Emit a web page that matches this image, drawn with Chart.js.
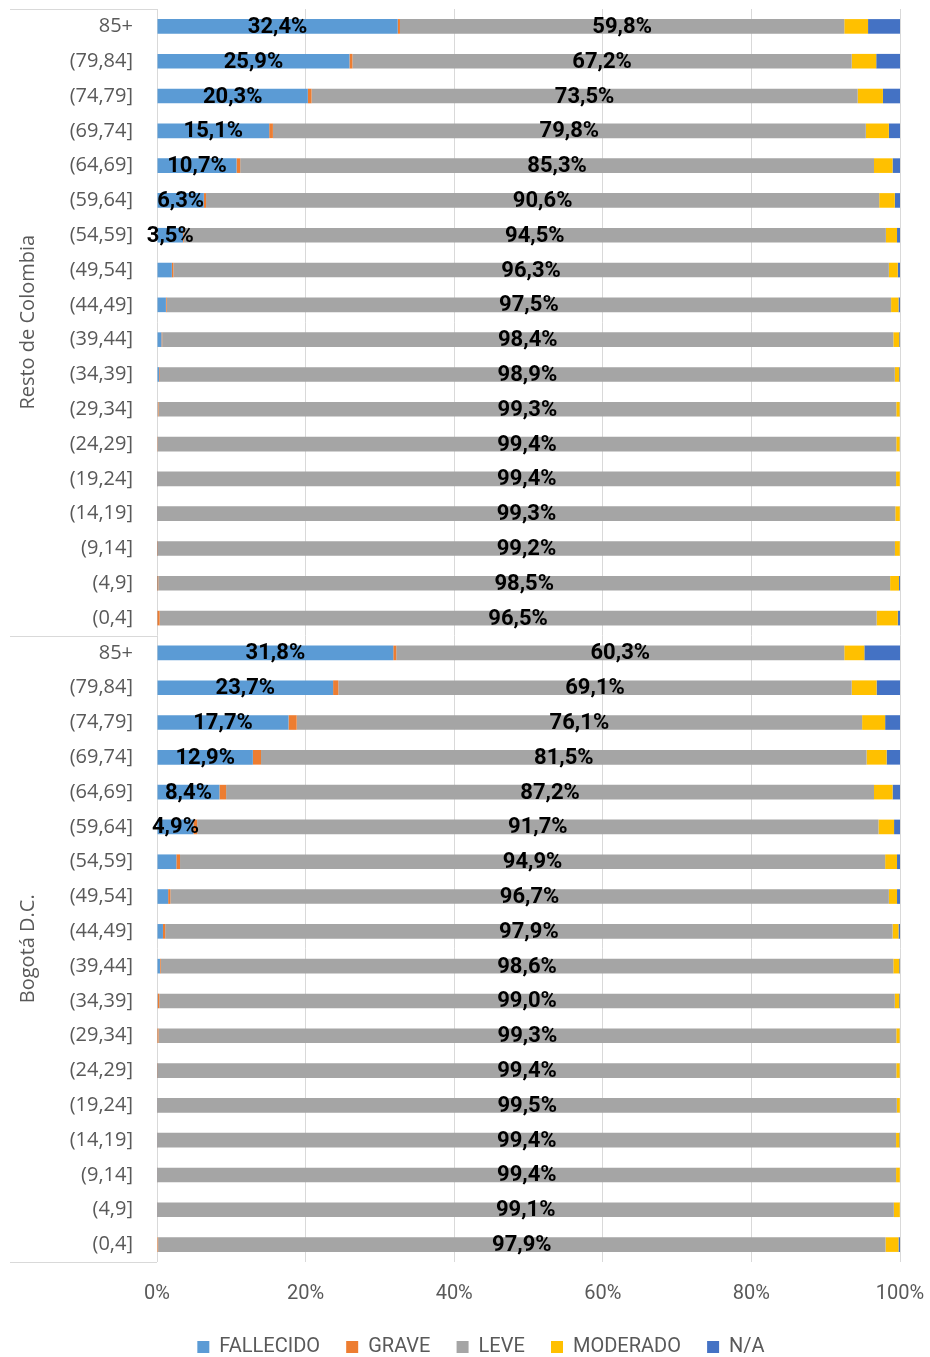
<!DOCTYPE html>
<html>
<head>
<meta charset="utf-8">
<script src="https://cdn.jsdelivr.net/npm/chart.js@4.4.0/dist/chart.umd.min.js"></script>
<style>
  html, body { margin: 0; padding: 0; background: #fff; }
</style>
</head>
<body>
<canvas id="chart" width="930" height="1357"></canvas>
<script>
// Grupos de edad (de arriba hacia abajo) y regiones
const ageGroups = ['85+', '(79,84]', '(74,79]', '(69,74]', '(64,69]', '(59,64]', '(54,59]', '(49,54]', '(44,49]',
    '(39,44]', '(34,39]', '(29,34]', '(24,29]', '(19,24]', '(14,19]', '(9,14]', '(4,9]', '(0,4]'];
const regions = ['Resto de Colombia', 'Bogotá D.C.'];
const labels = [...ageGroups, ...ageGroups];

// Porcentajes por estado: primero Resto de Colombia, luego Bogotá D.C.
const fallecido = [32.4, 25.9, 20.3, 15.1, 10.7, 6.3, 3.5, 2.0, 1.2, 0.6, 0.3, 0.1, 0.05, 0.02, 0.02, 0.02, 0.02, 0.05,
    31.8, 23.7, 17.7, 12.9, 8.4, 4.9, 2.6, 1.5, 0.8, 0.4, 0.1, 0.05, 0.02, 0.02, 0.02, 0.02, 0.02, 0.0];
const grave = [0.3, 0.4, 0.5, 0.5, 0.5, 0.3, 0.1, 0.2, 0.1, 0.1, 0.1, 0.1, 0.05, 0.05, 0.05, 0.1, 0.15, 0.3,
    0.4, 0.7, 1.1, 1.1, 0.9, 0.5, 0.5, 0.3, 0.3, 0.1, 0.2, 0.15, 0.08, 0.05, 0.05, 0.05, 0.05, 0.15];
const leve = [59.8, 67.2, 73.5, 79.8, 85.3, 90.6, 94.5, 96.3, 97.5, 98.4, 98.9, 99.3, 99.4, 99.4, 99.3, 99.2, 98.5, 96.5,
    60.3, 69.1, 76.1, 81.5, 87.2, 91.7, 94.9, 96.7, 97.9, 98.6, 99.0, 99.3, 99.4, 99.5, 99.4, 99.4, 99.1, 97.9];
const moderado = [3.2, 3.3, 3.4, 3.1, 2.5, 2.1, 1.5, 1.2, 1.0, 0.8, 0.6, 0.45, 0.45, 0.5, 0.6, 0.65, 1.2, 2.85,
    2.7, 3.35, 3.1, 2.7, 2.5, 2.1, 1.6, 1.1, 0.8, 0.8, 0.6, 0.45, 0.45, 0.4, 0.45, 0.5, 0.8, 1.75];
const na = [4.3, 3.2, 2.3, 1.5, 1.0, 0.7, 0.4, 0.3, 0.2, 0.1, 0.1, 0.05, 0.05, 0.03, 0.03, 0.03, 0.13, 0.3,
    4.8, 3.15, 2.0, 1.8, 1.0, 0.8, 0.4, 0.4, 0.2, 0.1, 0.1, 0.05, 0.05, 0.03, 0.08, 0.03, 0.03, 0.2];
const xTicks = [0, 20, 40, 60, 80, 100];

const cond = "Roboto, 'Liberation Sans', sans-serif";
const grey = '#595959';

// Etiquetas de datos (FALLECIDO >= 3% y LEVE), centradas en cada barra
const dataLabels = {
    id: 'dataLabels',
    afterDatasetsDraw(chart) {
        const ctx = chart.ctx;
        ctx.save();
        ctx.font = "bold 22px " + cond;
        ctx.fillStyle = '#000';
        ctx.textAlign = 'center';
        ctx.textBaseline = 'middle';
        [0, 2].forEach(di => {
            const ds = chart.data.datasets[di];
            chart.getDatasetMeta(di).data.forEach((bar, i) => {
                const v = ds.data[i];
                if (v < 3) return;
                const txt = v.toFixed(1).replace('.', ',') + '%';
                ctx.fillText(txt, (bar.x + bar.base) / 2, bar.y + 1);
            });
        });
        ctx.restore();
    }
};

// Eje de categorías de dos niveles: separadores y nombre de cada región
const groupAxis = {
    id: 'groupAxis',
    afterDraw(chart) {
        const ctx = chart.ctx;
        const y = chart.scales.y;
        const left = 10;
        const right = chart.chartArea.left;
        const n = ageGroups.length;
        const bounds = [chart.chartArea.top,
            (y.getPixelForValue(n - 1) + y.getPixelForValue(n)) / 2,
            chart.chartArea.bottom];
        ctx.save();
        ctx.strokeStyle = '#d9d9d9';
        ctx.lineWidth = 1;
        bounds.forEach(b => {
            ctx.beginPath();
            ctx.moveTo(left, Math.round(b) + 0.5);
            ctx.lineTo(right, Math.round(b) + 0.5);
            ctx.stroke();
        });
        ctx.fillStyle = grey;
        ctx.font = "20px 'Open Sans', sans-serif";
        ctx.textAlign = 'center';
        ctx.textBaseline = 'middle';
        regions.forEach((r, k) => {
            const cy = (y.getPixelForValue(k * n) + y.getPixelForValue(k * n + n - 1)) / 2;
            ctx.save();
            ctx.translate(28, cy);
            ctx.rotate(-Math.PI / 2);
            ctx.fillText(r, 0, 0);
            ctx.restore();
        });
        ctx.restore();
    }
};

const ctx = document.getElementById('chart').getContext('2d');
new Chart(ctx, {
    type: 'bar',
    data: {
        labels: labels,
        datasets: [
            { label: 'FALLECIDO', data: fallecido, backgroundColor: '#5B9BD5' },
            { label: 'GRAVE', data: grave, backgroundColor: '#ED7D31' },
            { label: 'LEVE', data: leve, backgroundColor: '#A5A5A5' },
            { label: 'MODERADO', data: moderado, backgroundColor: '#FFC000' },
            { label: 'N/A', data: na, backgroundColor: '#4472C4' }
        ]
    },
    options: {
        indexAxis: 'y',
        responsive: false,
        animation: false,
        datasets: {
            bar: { categoryPercentage: 1, barPercentage: 0.42, borderWidth: 0 }
        },
        // padding izquierdo grande para centrar la leyenda como en el original
        layout: { padding: { left: 62, right: 30, top: 9, bottom: -10 } },
        scales: {
            x: {
                stacked: true,
                min: 0,
                max: 100,
                afterBuildTicks: (s) => { s.ticks = xTicks.map(v => ({ value: v })); },
                afterFit: (s) => { s.paddingLeft = 0; s.paddingRight = 0; },
                grid: { color: '#d9d9d9', drawTicks: false },
                border: { display: false },
                ticks: {
                    padding: 20,
                    color: grey,
                    font: { family: cond, size: 20 },
                    callback: v => v + '%'
                }
            },
            y: {
                stacked: true,
                afterFit: (s) => { s.width = 95; s.paddingTop = 0; s.paddingBottom = 0; },
                grid: { display: false, drawTicks: false },
                border: { display: false },
                ticks: {
                    autoSkip: false,
                    padding: 24,
                    color: grey,
                    font: { family: "'Open Sans', sans-serif", size: 20 }
                }
            }
        },
        plugins: {
            legend: {
                position: 'bottom',
                labels: {
                    boxWidth: 12,
                    boxHeight: 12,
                    padding: 11,
                    color: grey,
                    font: { family: cond, size: 20 },
                    // espacio extra entre elementos de la leyenda
                    generateLabels: (chart) => {
                        const items = Chart.defaults.plugins.legend.labels.generateLabels(chart);
                        items.forEach((it, i) => {
                            if (i < items.length - 1) it.text += '\u2002 ';
                        });
                        return items;
                    }
                }
            },
            tooltip: { enabled: false }
        }
    },
    plugins: [dataLabels, groupAxis]
});
</script>
</body>
</html>
